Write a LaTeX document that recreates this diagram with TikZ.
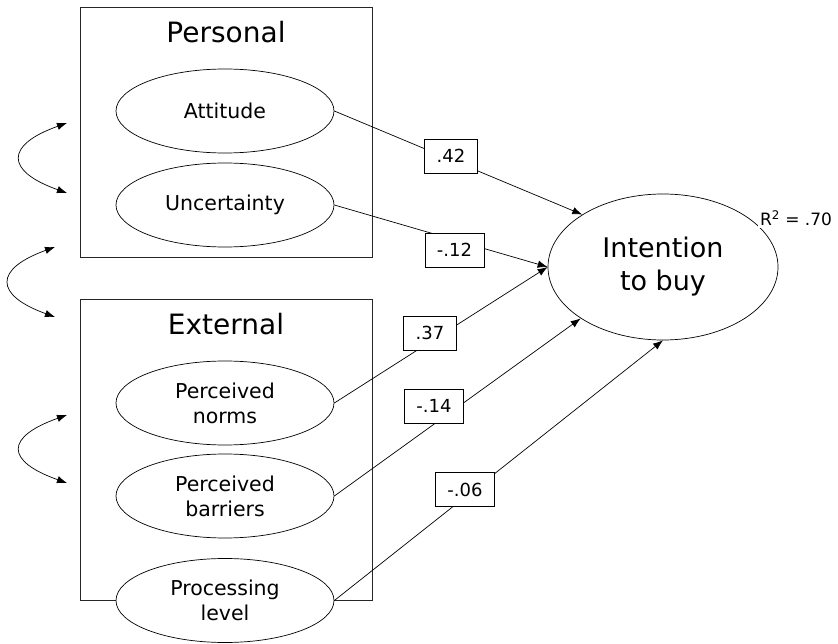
\documentclass[tikz,border=0pt]{standalone}
\usepackage{fontspec}
\setmainfont{DejaVu Sans}
\usetikzlibrary{shapes.geometric,arrows.meta}
\begin{document}
\begin{tikzpicture}[x=1pt,y=-1pt,
  grp/.style={draw=black!85,line width=0.8pt},
  grplabel/.style={font=\fontsize{28}{32}\selectfont,inner sep=0pt},
  latent/.style={draw,ellipse,fill=white,line width=0.7pt,minimum width=218pt,minimum height=84pt,inner sep=0pt,align=center,font=\fontsize{20.5}{25}\selectfont},
  outcome/.style={draw,ellipse,fill=white,line width=0.7pt,minimum width=230pt,minimum height=146pt,inner sep=0pt,align=center,font=\fontsize{27}{33}\selectfont},
  coef/.style={draw,fill=white,line width=0.7pt,minimum height=34pt,inner xsep=12pt,inner ysep=0pt,font=\fontsize{18}{20}\selectfont},
  path/.style={line width=0.7pt,-{Latex[length=10pt,width=7.5pt]}},
  corr/.style={line width=0.7pt,{Latex[length=10pt,width=7.5pt]}-{Latex[length=10pt,width=7.5pt]}}
]
\useasboundingbox (0,0) rectangle (838,644);
% group boxes
\draw[grp] (80,7) rectangle (372,257);
\draw[grp] (80,299) rectangle (372,600);
\node[grplabel] (personal) at (226,32) {Personal};
\node[grplabel] (external) at (226,324) {External};
% latent variables
\node[latent] (att) at (225,111) {Attitude};
\node[latent] (unc) at (225,205) {Uncertainty};
\node[latent] (norms) at (225,403) {Perceived\\norms};
\node[latent] (barr) at (225,496) {Perceived\\barriers};
\node[latent] (proc) at (225,600.5) {Processing\\level};
\node[outcome] (int) at (663,267) {Intention\\to buy};
\node[fill=white,inner sep=2pt,font=\fontsize{17}{19}\selectfont] (r2) at (796,218) {R\textsuperscript{2} = .70};
% paths
\draw[path] (att.east) -- (int.147.8);
\draw[path] (unc.east) -- (int.west);
\draw[path] (norms.east) -- (int.west);
\draw[path] (barr.east) -- (int.212.2);
\draw[path] (proc.east) -- (int.south);
% coefficients
\node[coef] (c1) at (451,156) {.42};
\node[coef] (c2) at (454.5,250) {-.12};
\node[coef] (c3) at (430,333) {.37};
\node[coef] (c4) at (434,406) {-.14};
\node[coef] (c5) at (465,489.5) {-.06};
% correlations
\coordinate (a1) at (67,123); \coordinate (a2) at (67,193);
\coordinate (b1) at (55,247); \coordinate (b2) at (55,317);
\coordinate (d1) at (67,415); \coordinate (d2) at (67,483);
\draw[corr] (a1) .. controls (5,145) and (5,171) .. (a2);
\draw[corr] (b1) .. controls (-6,269) and (-6,295) .. (b2);
\draw[corr] (d1) .. controls (5,437) and (5,461) .. (d2);
\end{tikzpicture}
\end{document}
